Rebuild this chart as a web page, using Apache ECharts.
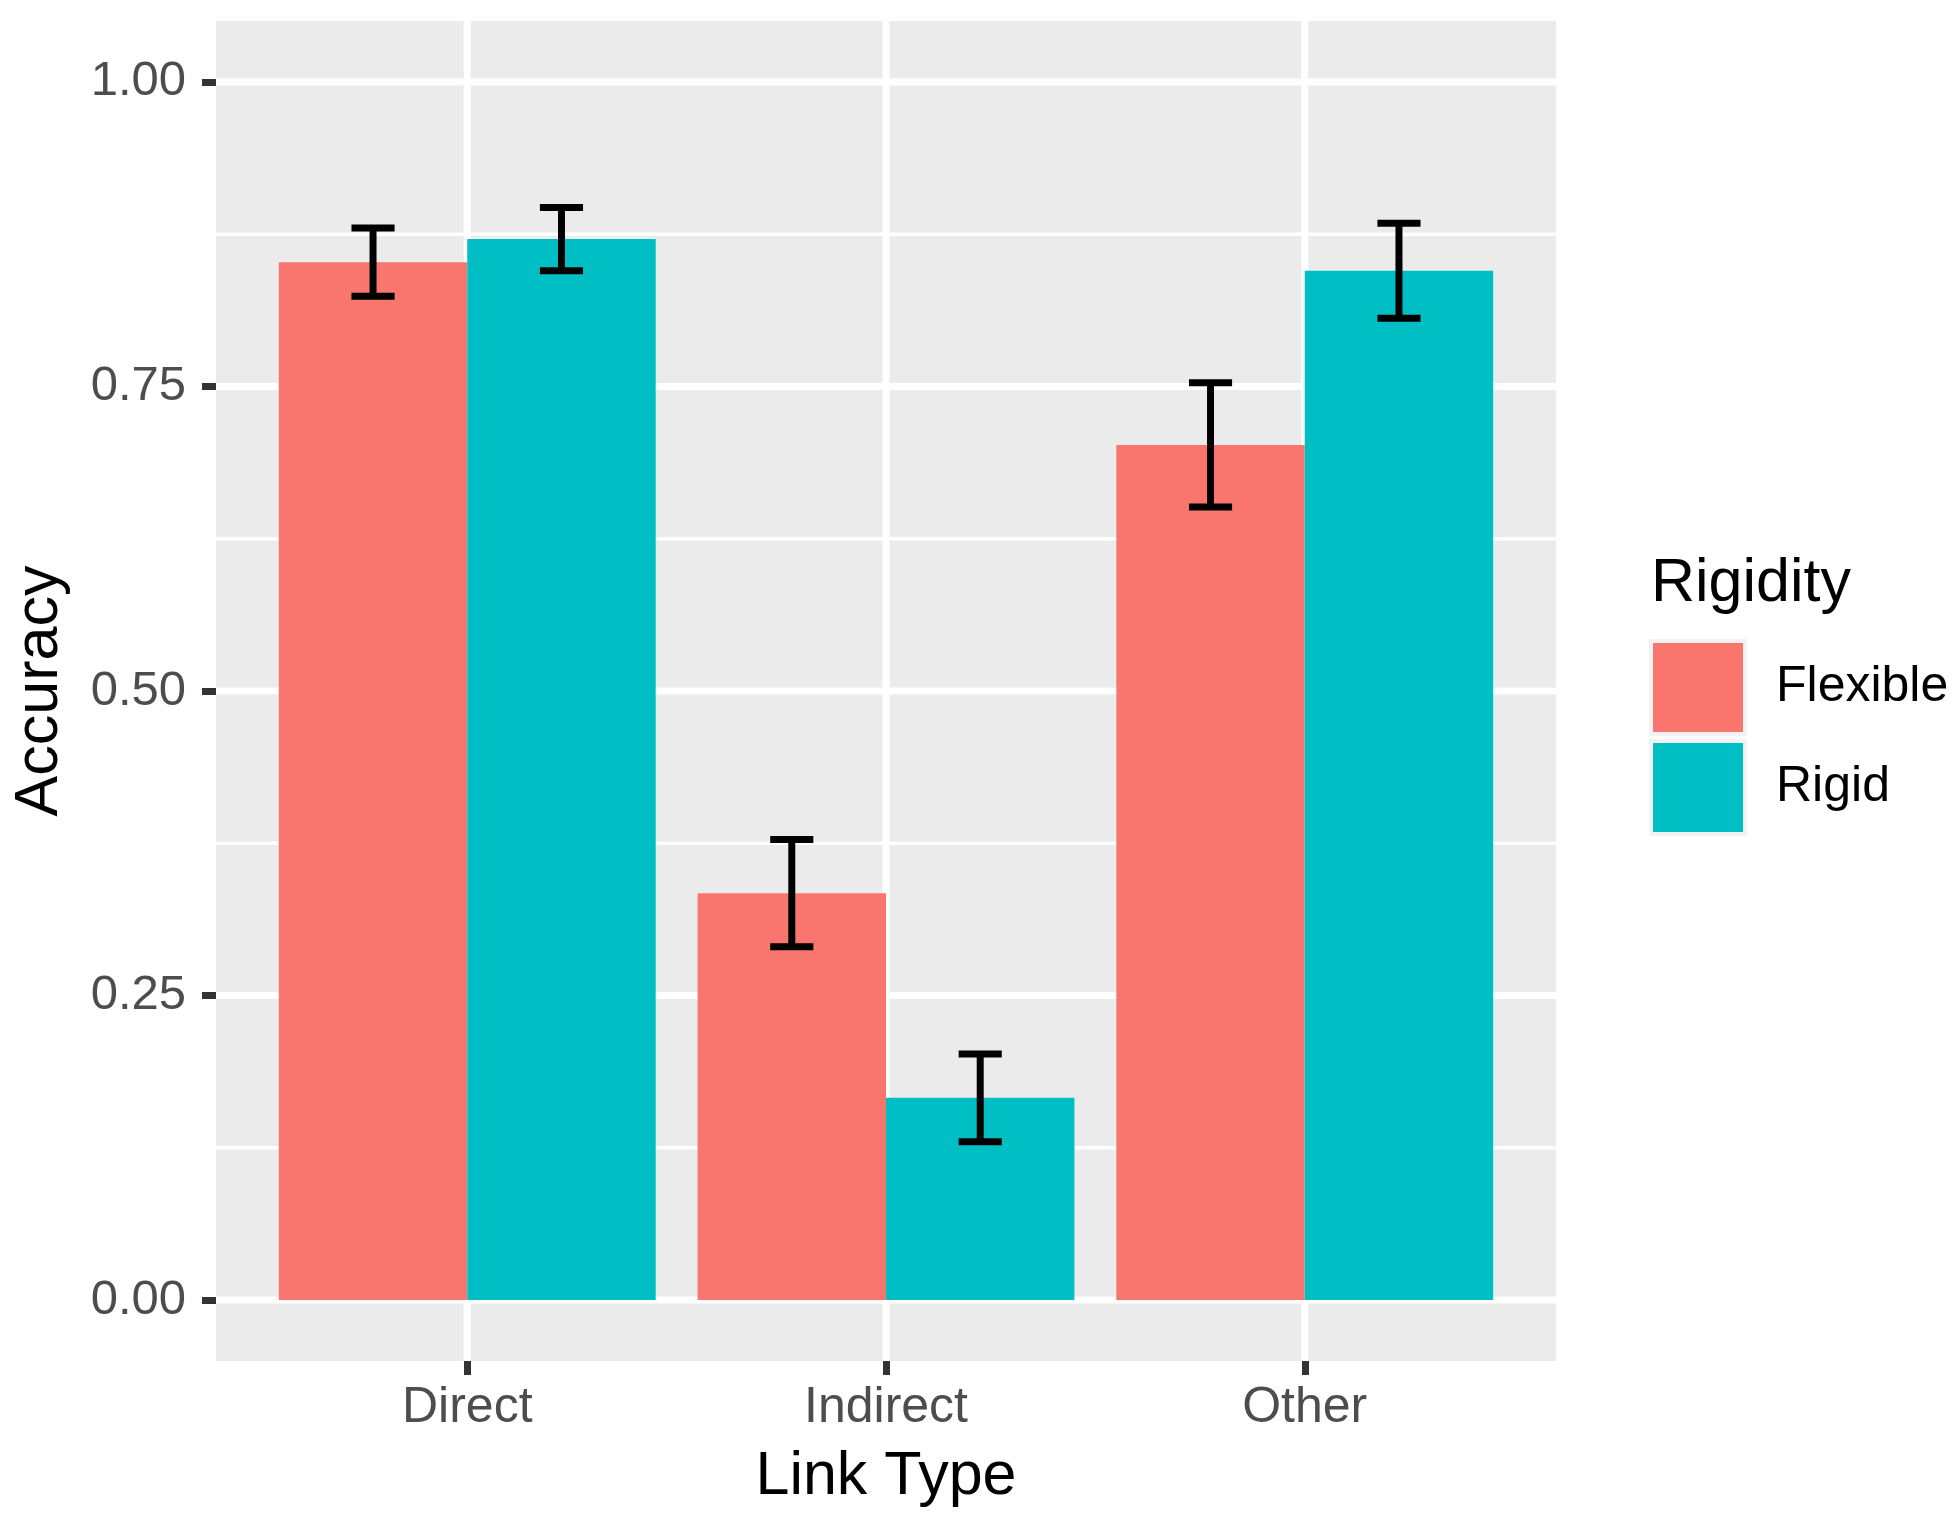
<!DOCTYPE html>
<html>
<head>
<meta charset="utf-8">
<script src="https://cdn.jsdelivr.net/npm/echarts@6/dist/echarts.min.js"></script>
<style>
  html, body { margin: 0; padding: 0; background: #ffffff; }
  #chart { width: 1956px; height: 1525px; }
</style>
</head>
<body>
<div id="chart"></div>
<script>
// ---- data ----
const categories = ['Direct', 'Indirect', 'Other'];
const groups = ['Flexible', 'Rigid'];
const flexibleValues = [0.852, 0.334, 0.702];
const rigidValues = [0.871, 0.166, 0.845];
const flexibleErr = [0.028, 0.044, 0.051];
const rigidErr = [0.026, 0.036, 0.039];
const yTicks = [0, 0.25, 0.5, 0.75, 1.0];
const yMinorTicks = [0.125, 0.375, 0.625, 0.875];
const groupColors = ['#F8766D', '#00BFC4'];

// ---- build ----
const FONT = 'Liberation Sans, Arial, Helvetica, sans-serif';
const xPositions = categories.map((c, i) => i + 1);
const xMin = 0.4, xMax = 3.6, yMin = -0.05, yMax = 1.05;
const dodge = 0.45; // width of each bar in category units (0.9 total)

const gridData = []
  .concat(yTicks.map(v => [0, v]))
  .concat(yMinorTicks.map(v => [1, v]))
  .concat(xPositions.map(v => [2, v]));

function gridRender(params, api) {
  const kind = api.value(0), v = api.value(1);
  let p0, p1, w;
  if (kind === 2) {
    p0 = api.coord([v, yMin]); p1 = api.coord([v, yMax]); w = 7;
  } else {
    p0 = api.coord([xMin, v]); p1 = api.coord([xMax, v]); w = kind === 0 ? 7 : 3.5;
  }
  return {
    type: 'line',
    shape: { x1: p0[0], y1: p0[1], x2: p1[0], y2: p1[1] },
    style: { stroke: '#FFFFFF', lineWidth: w }
  };
}

function barRenderer(gi) {
  return function (params, api) {
    const x = api.value(0), y = api.value(1);
    const off = gi === 0 ? -dodge / 2 : dodge / 2;
    const pTop = api.coord([x + off - dodge / 2, y]);
    const pBot = api.coord([x + off + dodge / 2, 0]);
    return {
      type: 'rect',
      shape: { x: pTop[0], y: pTop[1], width: pBot[0] - pTop[0], height: pBot[1] - pTop[1] },
      style: { fill: groupColors[gi] }
    };
  };
}

function errRenderer(gi) {
  return function (params, api) {
    const x = api.value(0), y = api.value(1), e = api.value(2);
    const off = gi === 0 ? -dodge / 2 : dodge / 2;
    const cx = x + off, hw = 0.0515;
    const top = api.coord([cx, y + e]);
    const bot = api.coord([cx, y - e]);
    const tl = api.coord([cx - hw, y + e]);
    const tr = api.coord([cx + hw, y + e]);
    const bl = api.coord([cx - hw, y - e]);
    const br = api.coord([cx + hw, y - e]);
    const st = { stroke: '#000000', lineWidth: 7, lineCap: 'butt' };
    return {
      type: 'group',
      children: [
        { type: 'line', shape: { x1: top[0], y1: top[1], x2: bot[0], y2: bot[1] }, style: st },
        { type: 'line', shape: { x1: tl[0], y1: tl[1], x2: tr[0], y2: tr[1] }, style: st },
        { type: 'line', shape: { x1: bl[0], y1: bl[1], x2: br[0], y2: br[1] }, style: st }
      ]
    };
  };
}

const valuesByGroup = [flexibleValues, rigidValues];
const errByGroup = [flexibleErr, rigidErr];

const series = [{
  type: 'custom', name: 'grid', silent: true, z: 1,
  data: gridData, renderItem: gridRender, encode: { x: -1, y: -1 }
}];
groups.forEach((g, gi) => {
  series.push({
    type: 'custom', name: g, z: 2,
    itemStyle: { color: groupColors[gi] },
    data: xPositions.map((x, i) => [x, valuesByGroup[gi][i]]),
    renderItem: barRenderer(gi),
    encode: { x: 0, y: 1 }
  });
});
groups.forEach((g, gi) => {
  series.push({
    type: 'custom', name: g + ' err', z: 3, silent: true,
    data: xPositions.map((x, i) => [x, valuesByGroup[gi][i], errByGroup[gi][i]]),
    renderItem: errRenderer(gi),
    encode: { x: 0, y: 1 }
  });
});

const chart = echarts.init(document.getElementById('chart'), null, { renderer: 'canvas' });
chart.setOption({
  animation: false,
  backgroundColor: '#FFFFFF',
  title: {
    text: 'Rigidity', left: 1651, top: 554, padding: 0,
    textStyle: { fontFamily: FONT, fontSize: 61, fontWeight: 'normal', color: '#000000' }
  },
  legend: {
    data: groups, orient: 'vertical', left: 1649, top: 639, padding: 0,
    itemWidth: 94, itemHeight: 93, itemGap: 3, icon: 'rect',
    itemStyle: { borderColor: '#F2F2F2', borderWidth: 4 },
    textStyle: { fontFamily: FONT, fontSize: 50, color: '#000000', padding: [0, 0, 0, 26] },
    selectedMode: false
  },
  grid: {
    left: 216, top: 21, width: 1340, height: 1340,
    show: true, backgroundColor: '#EBEBEB', borderWidth: 0,
    containLabel: false, outerBoundsMode: 'none'
  },
  xAxis: {
    type: 'value', min: xMin, max: xMax,
    name: 'Link Type', nameLocation: 'middle', nameGap: 86,
    nameTextStyle: { fontFamily: FONT, fontSize: 61, color: '#000000' },
    axisLine: { show: false, onZero: false },
    splitLine: { show: false },
    axisTick: { show: true, length: 14, customValues: xPositions, lineStyle: { color: '#333333', width: 7 } },
    axisLabel: {
      customValues: xPositions, margin: 22,
      fontFamily: FONT, fontSize: 50, color: '#4D4D4D',
      formatter: v => categories[Math.round(v) - 1] || ''
    }
  },
  yAxis: {
    type: 'value', min: yMin, max: yMax,
    name: 'Accuracy', nameLocation: 'middle', nameGap: 145, nameRotate: 90,
    nameTextStyle: { fontFamily: FONT, fontSize: 61, color: '#000000' },
    axisLine: { show: false, onZero: false },
    splitLine: { show: false },
    axisTick: { show: true, length: 14, customValues: yTicks, lineStyle: { color: '#333333', width: 7 } },
    axisLabel: {
      customValues: yTicks, margin: 30,
      fontFamily: FONT, fontSize: 49, color: '#4D4D4D',
      formatter: v => v.toFixed(2)
    }
  },
  series: series
});
</script>
</body>
</html>
